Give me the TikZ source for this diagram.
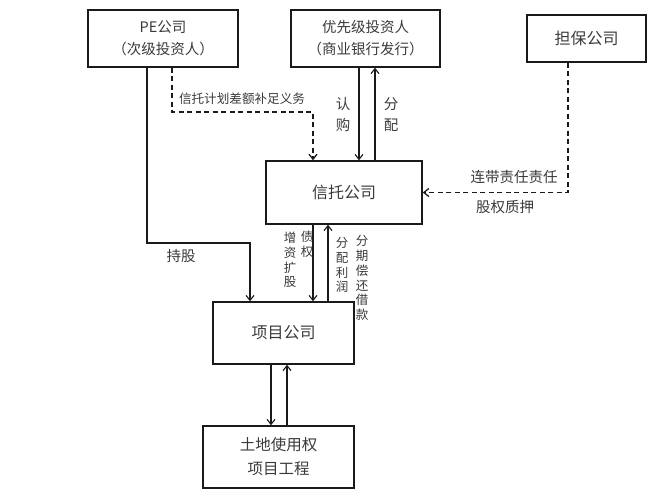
\documentclass[tikz,border=0pt]{standalone}
\usepackage{fontspec}
\newfontfamily\cjk{Noto Sans CJK SC}
\usetikzlibrary{arrows.meta,positioning,calc}
\definecolor{ink}{HTML}{1A1A1A}
\definecolor{muted}{HTML}{3A3A3A}
\tikzset{
  >={Straight Barb[length=5pt,width=8pt]},
  flow/.style={->,line width=1.1pt,draw=ink},
  softflow/.style={->,line width=1.3pt,draw=ink,dash pattern=on 5pt off 3.5pt},
  box/.style={draw=ink,line width=1.5pt,align=center,inner sep=0pt,text=muted,
    font=\cjk\fontsize{16}{23}\selectfont},
  note/.style={inner sep=0pt,align=center,text=muted,font=\cjk\fontsize{14.5}{21}\selectfont},
  vnote/.style={inner sep=0pt,align=center,text=muted,font=\cjk\fontsize{12.5}{14.8}\selectfont}
}
\begin{document}
\begin{tikzpicture}[x=1pt,y=-1pt]
  \useasboundingbox (0,0) rectangle (667,500);
  % boxes
  \node[box,minimum width=150pt,minimum height=57pt,font=\cjk\fontsize{14.5}{22}\selectfont] (pe) at (163,38.5) {PE公司\\（次级投资人）};
  \node[box,minimum width=149pt,minimum height=57pt,font=\cjk\fontsize{14.5}{22}\selectfont] (prio) at (365.5,38.5) {优先级投资人\\（商业银行发行）};
  \node[box,minimum width=119pt,minimum height=47pt] (guar) at (586.5,38.5) {担保公司};
  \node[box,minimum width=156pt,minimum height=63pt] (trust) at (344,192.5) {信托公司};
  \node[box,minimum width=141pt,minimum height=62pt] (proj) at (283.5,333) {项目公司};
  \node[box,minimum width=151pt,minimum height=62pt,font=\cjk\fontsize{15.5}{24}\selectfont] (land) at (278.5,457) {土地使用权\\项目工程};
  % turning points
  \coordinate (peturn) at (147,243);
  \coordinate (pedash) at (172,112);
  \coordinate (gturn) at (568,192.5);
  % connectors
  \draw[flow] (pe.south -| peturn) -- (peturn) -| (proj.north -| 250,0);
  \draw[softflow] (pe.south -| pedash) -- (pedash) -| (trust.north -| 313,0);
  \draw[softflow] (guar.south -| gturn) -- (gturn) -- (trust.east);
  \draw[flow] (prio.south -| 359,0) -- (trust.north -| 359,0);
  \draw[flow] (trust.north -| 375,0) -- (prio.south -| 375,0);
  \draw[flow] (trust.south -| 313,0) -- (proj.north -| 313,0);
  \draw[flow] (proj.north -| 328,0) -- (trust.south -| 328,0);
  \draw[flow] (proj.south -| 271,0) -- (land.north -| 271,0);
  \draw[flow] (land.north -| 287,0) -- (proj.south -| 287,0);
  % labels
  \node[note] (hold) at (181,256) {持股};
  \node[note,font=\cjk\fontsize{12.6}{15}\selectfont] (topup) at (242,99) {信托计划差额补足义务};
  \node[note] (subs) at (343,114.5) {认\\购};
  \node[note] (dist) at (391,114.5) {分\\配};
  \node[note] (joint) at (514,177) {连带责任责任};
  \node[note] (pledge) at (505,207) {股权质押};
  \node[vnote] (capinc) at (290,260) {增\\资\\扩\\股};
  \node[vnote] (debt) at (307,244.5) {债\\权};
  \node[vnote] (profit) at (342,265) {分\\配\\利\\润};
  \node[vnote] (repay) at (362,278) {分\\期\\偿\\还\\借\\款};
\end{tikzpicture}
\end{document}
